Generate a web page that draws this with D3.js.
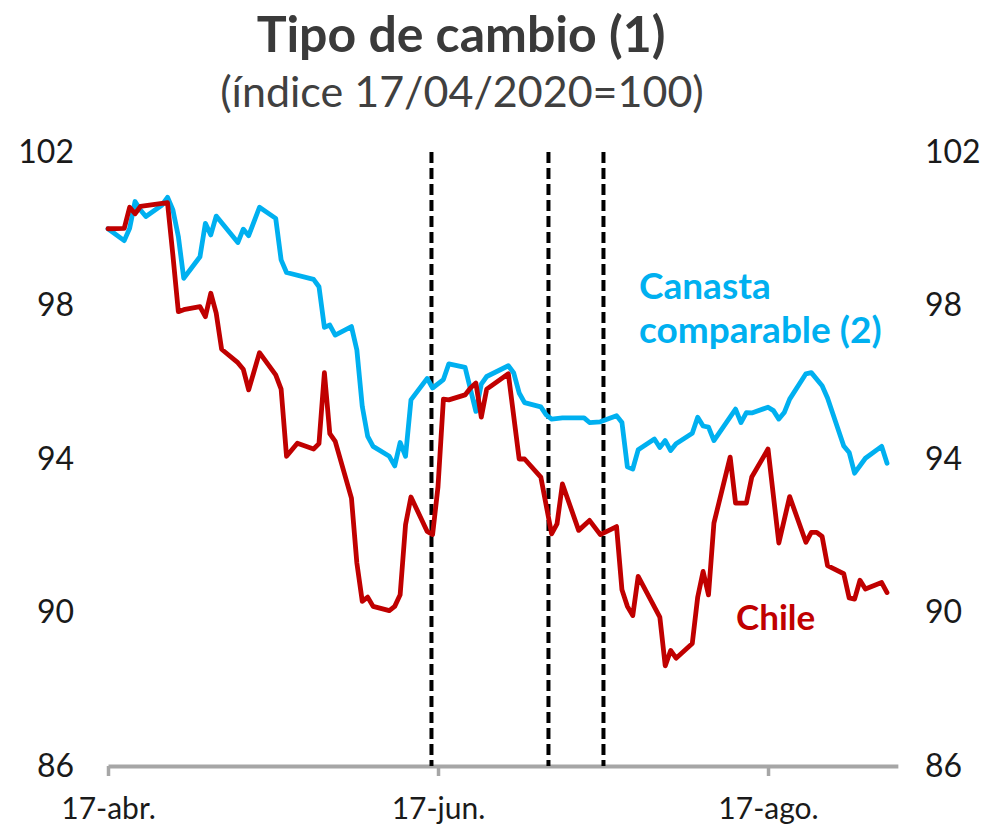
<!DOCTYPE html>
<html>
<head>
<meta charset="utf-8">
<script src="https://cdn.jsdelivr.net/npm/d3@7"></script>
<style>
  html, body { margin: 0; padding: 0; background: #fff; }
  svg { display: block; }
  text { font-family: Lato, "Open Sans", sans-serif; }
</style>
</head>
<body>
<svg id="chart" width="986" height="835"></svg>
<script>
// ---- Data ----
const chileDates = [
  "2020-04-17","2020-04-20","2020-04-21","2020-04-22","2020-04-23","2020-04-28","2020-04-29","2020-04-30",
  "2020-05-01","2020-05-04","2020-05-05","2020-05-06","2020-05-07","2020-05-08","2020-05-11","2020-05-12",
  "2020-05-13","2020-05-15","2020-05-18","2020-05-19","2020-05-20","2020-05-22","2020-05-25","2020-05-26",
  "2020-05-27","2020-05-28","2020-05-29","2020-06-01","2020-06-02","2020-06-03","2020-06-04","2020-06-05",
  "2020-06-08","2020-06-09","2020-06-10","2020-06-11","2020-06-12","2020-06-15","2020-06-16","2020-06-17",
  "2020-06-18","2020-06-19","2020-06-22","2020-06-23","2020-06-24","2020-06-25","2020-06-26","2020-06-30",
  "2020-07-02","2020-07-03","2020-07-06","2020-07-08","2020-07-09","2020-07-10","2020-07-13","2020-07-15",
  "2020-07-17","2020-07-20","2020-07-21","2020-07-22","2020-07-23","2020-07-24","2020-07-28","2020-07-29",
  "2020-07-30","2020-07-31","2020-08-03","2020-08-04","2020-08-05","2020-08-06","2020-08-07","2020-08-10",
  "2020-08-11","2020-08-13","2020-08-14","2020-08-17","2020-08-19","2020-08-21","2020-08-24","2020-08-25",
  "2020-08-26","2020-08-27","2020-08-28","2020-08-31","2020-09-01","2020-09-02","2020-09-03","2020-09-04",
  "2020-09-07","2020-09-08"
];
const chileValues = [
  100.00,100.01,100.56,100.39,100.58,100.68,99.30,97.84,
  97.89,97.97,97.71,98.32,97.80,96.86,96.51,96.34,
  95.80,96.77,96.19,95.82,94.07,94.41,94.26,94.40,
  96.25,94.66,94.46,92.98,91.29,90.29,90.40,90.16,
  90.05,90.16,90.46,92.29,93.01,92.11,92.03,93.28,
  95.56,95.54,95.67,95.85,95.98,95.09,95.82,96.22,
  94.00,94.00,93.53,92.05,92.31,93.35,92.14,92.40,
  92.03,92.24,90.59,90.16,89.92,90.94,89.88,88.61,
  89.01,88.81,89.19,90.40,91.07,90.46,92.33,94.05,
  92.85,92.85,93.53,94.26,91.81,93.02,91.83,92.09,
  92.09,91.98,91.22,91.01,90.38,90.35,90.84,90.61,
  90.78,90.52
];

const canastaDates = [
  "2020-04-17","2020-04-20","2020-04-21","2020-04-22","2020-04-23","2020-04-24","2020-04-27","2020-04-28",
  "2020-04-29","2020-04-30","2020-05-01","2020-05-04","2020-05-05","2020-05-06","2020-05-07","2020-05-11",
  "2020-05-12","2020-05-13","2020-05-15","2020-05-18","2020-05-19","2020-05-20","2020-05-25","2020-05-26",
  "2020-05-27","2020-05-28","2020-05-29","2020-06-01","2020-06-02","2020-06-03","2020-06-04","2020-06-05",
  "2020-06-08","2020-06-09","2020-06-10","2020-06-11","2020-06-12","2020-06-15","2020-06-16","2020-06-18",
  "2020-06-19","2020-06-22","2020-06-24","2020-06-25","2020-06-26","2020-06-30","2020-07-01","2020-07-02",
  "2020-07-03","2020-07-06","2020-07-07","2020-07-08","2020-07-10","2020-07-14","2020-07-15","2020-07-17",
  "2020-07-20","2020-07-21","2020-07-22","2020-07-23","2020-07-24","2020-07-27","2020-07-28","2020-07-29",
  "2020-07-30","2020-07-31","2020-08-03","2020-08-04","2020-08-05","2020-08-06","2020-08-07","2020-08-11",
  "2020-08-12","2020-08-13","2020-08-14","2020-08-17","2020-08-18","2020-08-19","2020-08-20","2020-08-21",
  "2020-08-24","2020-08-25","2020-08-27","2020-08-28","2020-08-31","2020-09-01","2020-09-02","2020-09-04",
  "2020-09-07","2020-09-08"
];
const canastaValues = [
  100.00,99.69,100.01,100.71,100.49,100.32,100.62,100.82,
  100.49,99.80,98.71,99.27,100.14,99.84,100.33,99.64,
  99.99,99.82,100.56,100.27,99.19,98.86,98.68,98.49,
  97.43,97.49,97.23,97.45,96.84,95.37,94.59,94.33,
  94.07,93.82,94.43,94.07,95.54,96.10,95.85,96.07,
  96.48,96.39,95.24,95.95,96.15,96.43,96.24,95.72,
  95.47,95.36,95.15,95.04,95.07,95.07,94.95,94.97,
  95.13,94.95,93.80,93.74,94.24,94.52,94.30,94.48,
  94.22,94.40,94.67,95.09,94.86,94.83,94.48,95.30,
  94.95,95.21,95.20,95.35,95.26,95.04,95.21,95.56,
  96.22,96.25,95.91,95.59,94.34,94.17,93.63,94.02,
  94.33,93.89
];

// Vertical reference lines (dashed)
const eventDates = ["2020-06-15T19:00","2020-07-07T10:00","2020-07-17T14:00"];

// Axis ticks
const yTicks = [86, 90, 94, 98, 102];
const xTickDates = ["2020-04-17","2020-06-17","2020-08-17"];
const xTickLabels = ["17-abr.","17-jun.","17-ago."];
const xDomain = ["2020-04-17","2020-09-10"];
const yDomain = [86, 102];

const titleText = "Tipo de cambio (1)";
const subtitleText = "(índice 17/04/2020=100)";
const seriesNames = { chile: "Chile", canasta: ["Canasta", "comparable (2)"] };

// ---- Drawing ----
const parse = d3.isoParse;
const svg = d3.select("#chart");

const left = 108, dayPx = 5.41;
const d0 = parse(xDomain[0]), d1 = parse(xDomain[1]);
const nDays = (d1 - d0) / 864e5;
const x = d3.scaleTime().domain([d0, d1]).range([left, left + nDays * dayPx]);
const y = d3.scaleLinear().domain(yDomain).range([766, 152]);

const textColor = "#1a1a1a";
const tickFont = 32;

// Title
svg.append("text").attr("x", 461).attr("y", 52).attr("text-anchor", "middle")
  .attr("font-size", 50).attr("font-weight", "bold").attr("fill", "#3a3a3a").text(titleText);
svg.append("text").attr("x", 462).attr("y", 107).attr("text-anchor", "middle")
  .attr("font-size", 43).attr("fill", "#404040").text(subtitleText);

// Left / right value labels
const yLeft = d3.axisLeft(y).tickValues(yTicks).tickSize(0).tickPadding(0);
const gl = svg.append("g").attr("transform", "translate(74,0)").call(yLeft);
gl.select(".domain").remove();
gl.selectAll("text").attr("font-size", tickFont).attr("fill", textColor).attr("font-family", "Lato");

const yRight = d3.axisRight(y).tickValues(yTicks).tickSize(0).tickPadding(0);
const gr = svg.append("g").attr("transform", "translate(925,0)").call(yRight);
gr.select(".domain").remove();
gr.selectAll("text").attr("font-size", tickFont).attr("fill", textColor).attr("font-family", "Lato");

// X axis
const xAxis = d3.axisBottom(x)
  .tickValues(xTickDates.map(parse))
  .tickFormat((d, i) => xTickLabels[i])
  .tickSize(10).tickPadding(22).tickSizeOuter(0);
const gx = svg.append("g").attr("transform", "translate(0,766)").call(xAxis);
gx.select(".domain").attr("stroke", "#a6a6a6").attr("stroke-width", 4);
gx.selectAll(".tick line").attr("stroke", "#a6a6a6").attr("stroke-width", 3.5);
gx.selectAll("text").attr("font-size", 30).attr("fill", textColor).attr("font-family", "Lato");

// Dashed event lines
svg.append("g").selectAll("line").data(eventDates).join("line")
  .attr("x1", d => x(parse(d))).attr("x2", d => x(parse(d)))
  .attr("y1", y(102)).attr("y2", y(86))
  .attr("stroke", "#000").attr("stroke-width", 4).attr("stroke-dasharray", "11,5");

// Series lines
const line = d3.line().x(d => x(d.date)).y(d => y(d.value));
const chile = chileDates.map((d, i) => ({ date: parse(d), value: chileValues[i] }));
const canasta = canastaDates.map((d, i) => ({ date: parse(d), value: canastaValues[i] }));

svg.append("path").datum(canasta).attr("d", line)
  .attr("fill", "none").attr("stroke", "#00b0f0").attr("stroke-width", 4.8)
  .attr("stroke-linejoin", "round").attr("stroke-linecap", "round");
svg.append("path").datum(chile).attr("d", line)
  .attr("fill", "none").attr("stroke", "#c00000").attr("stroke-width", 4.8)
  .attr("stroke-linejoin", "round").attr("stroke-linecap", "round");

// Series labels
const lab = svg.append("text").attr("font-size", 37).attr("font-weight", "bold").attr("fill", "#00b0f0");
lab.append("tspan").attr("x", 639).attr("y", 299).text(seriesNames.canasta[0]);
lab.append("tspan").attr("x", 639).attr("y", 343).text(seriesNames.canasta[1]);
svg.append("text").attr("x", 736).attr("y", 630).attr("font-size", 35).attr("font-weight", "bold")
  .attr("fill", "#c00000").text(seriesNames.chile);
</script>
</body>
</html>
